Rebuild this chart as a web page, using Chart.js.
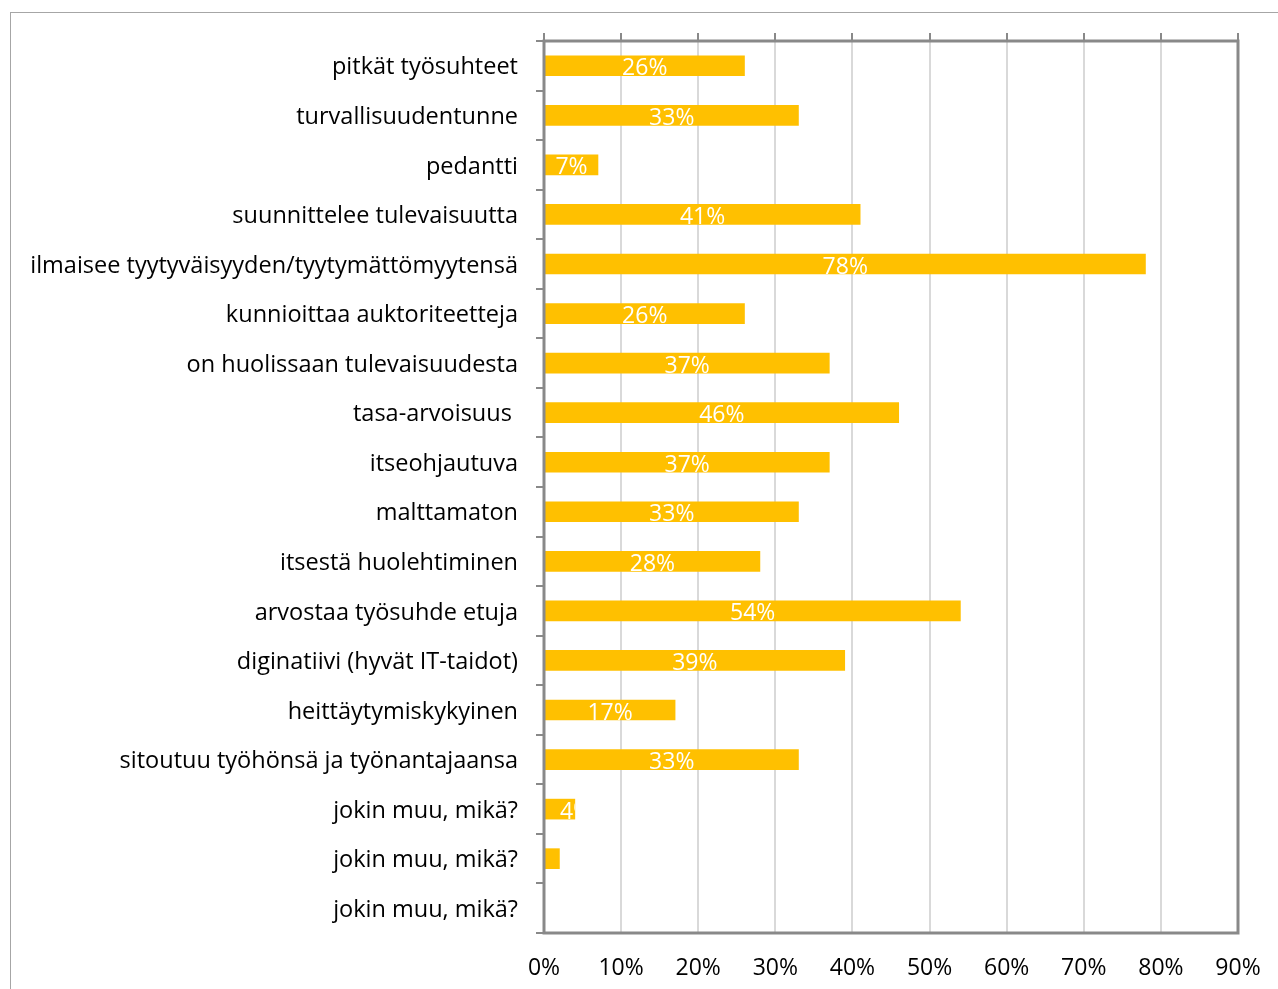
<!DOCTYPE html>
<html>
<head>
<meta charset="utf-8">
<script src="https://cdn.jsdelivr.net/npm/chart.js@4.4.1/dist/chart.umd.min.js"></script>
<style>
  html, body { margin: 0; padding: 0; background: #fff; overflow: hidden; }
  #frame {
    position: absolute; left: 10px; top: 12px;
    width: 1400px; height: 1100px;
    border: 1px solid #a6a6a6;
  }
  #wrap { position: absolute; left: 0; top: 0; width: 1278px; height: 989px; }
</style>
</head>
<body>
<div id="frame"></div>
<div id="wrap"><canvas id="chart"></canvas></div>
<script>
// Survey answers, share of respondents (%)
const categories = [
    'pitkät työsuhteet',
    'turvallisuudentunne',
    'pedantti',
    'suunnittelee tulevaisuutta',
    'ilmaisee tyytyväisyyden/tyytymättömyytensä',
    'kunnioittaa auktoriteetteja',
    'on huolissaan tulevaisuudesta',
    'tasa-arvoisuus ',
    'itseohjautuva',
    'malttamaton',
    'itsestä huolehtiminen',
    'arvostaa työsuhde etuja',
    'diginatiivi (hyvät IT-taidot)',
    'heittäytymiskykyinen',
    'sitoutuu työhönsä ja työnantajaansa',
    'jokin muu, mikä?',
    'jokin muu, mikä?',
    'jokin muu, mikä?'
];
const shares = [26, 33, 7, 41, 78, 26, 37, 46, 37, 33, 28, 54, 39, 17, 33, 4, 2, 0];
const axisMax = 90;
const axisStep = 10;

const FONT = "'Open Sans', sans-serif";
const AXIS_GREY = '#898989';

// Gray box around the plot area
const plotFrame = {
    id: 'plotFrame',
    afterDatasetsDraw(chart) {
        const { ctx, chartArea: a } = chart;
        ctx.save();
        ctx.strokeStyle = AXIS_GREY;
        ctx.lineWidth = 3;
        ctx.strokeRect(a.left, a.top, a.right - a.left, a.bottom - a.top);
        ctx.restore();
    }
};

// White value labels inside the bars, clipped to the bar
const barLabels = {
    id: 'barLabels',
    afterDatasetsDraw(chart) {
        const { ctx } = chart;
        const meta = chart.getDatasetMeta(0);
        ctx.save();
        ctx.font = '23px ' + FONT;
        ctx.fillStyle = '#ffffff';
        ctx.textBaseline = 'middle';
        meta.data.forEach((bar, i) => {
            const v = shares[i];
            const left = bar.base, right = bar.x;
            const w = right - left;
            if (w < 20) return;
            const text = v + '%';
            const tw = ctx.measureText(text).width;
            const h = bar.height;
            ctx.save();
            ctx.beginPath();
            ctx.rect(left, bar.y - h / 2, w, h);
            ctx.clip();
            if (tw <= w) {
                ctx.textAlign = 'center';
                ctx.fillText(text, (left + right) / 2, bar.y + 3);
            } else {
                ctx.textAlign = 'left';
                ctx.fillText(text, (left + right) / 2, bar.y + 3);
            }
            ctx.restore();
        });
        ctx.restore();
    }
};

// keep the last tick label from pushing the plot area inwards
function noSidePadding(scale) {
    scale.paddingLeft = 0;
    scale.paddingRight = 0;
}

new Chart(document.getElementById('chart'), {
    type: 'bar',
    data: {
        labels: categories,
        datasets: [{
            data: shares,
            backgroundColor: '#FFC000',
            barThickness: 20,
            xAxisID: 'x',
            yAxisID: 'y'
        }]
    },
    options: {
        indexAxis: 'y',
        responsive: true,
        maintainAspectRatio: false,
        animation: false,
        layout: { padding: { left: 0, right: 40, top: 0, bottom: 0 } },
        plugins: {
            legend: { display: false },
            tooltip: { enabled: false }
        },
        scales: {
            x: {
                type: 'linear',
                position: 'bottom',
                min: 0,
                max: axisMax,
                ticks: {
                    stepSize: axisStep,
                    callback: v => v + '%',
                    color: '#000',
                    font: { family: FONT, size: 23 },
                    padding: 22,
                    maxRotation: 0
                },
                grid: { color: '#d9d9d9', lineWidth: 2, drawTicks: false },
                border: { display: false },
                afterFit(scale) { scale.height = 56; noSidePadding(scale); }
            },
            xTop: {
                type: 'linear',
                position: 'top',
                min: 0,
                max: axisMax,
                ticks: { display: false, stepSize: axisStep },
                grid: { drawOnChartArea: false, drawTicks: true, tickLength: 8, color: AXIS_GREY, lineWidth: 2 },
                border: { display: false },
                afterFit(scale) { scale.height = 41; noSidePadding(scale); }
            },
            y: {
                type: 'category',
                offset: true,
                ticks: {
                    color: '#000',
                    font: { family: FONT, size: 23.5 },
                    padding: 18,
                    labelOffset: 2,
                    autoSkip: false
                },
                grid: { offset: true, drawOnChartArea: false, drawTicks: true, tickLength: 8, color: AXIS_GREY, lineWidth: 2 },
                border: { display: false },
                afterFit(scale) { scale.width = 544; }
            }
        }
    },
    plugins: [barLabels, plotFrame]
});
</script>
</body>
</html>
